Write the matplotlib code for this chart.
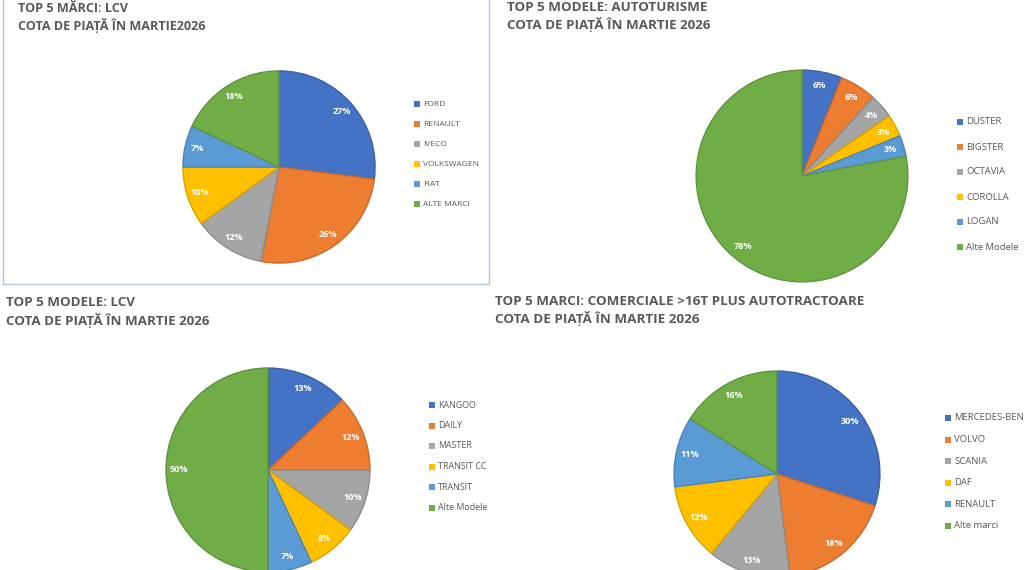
import matplotlib
matplotlib.use("Agg")
import matplotlib.pyplot as plt
from matplotlib.colors import to_rgb
from matplotlib.lines import Line2D
from matplotlib.patches import Rectangle

W, H = 1024, 570

# panel data
lcv_brands = ["FORD", "RENAULT", "IVECO", "VOLKSWAGEN", "FIAT", "ALTE MARCI"]
lcv_brands_share = [27, 26, 12, 10, 7, 18]

car_models = ["DUSTER", "BIGSTER", "OCTAVIA", "COROLLA", "LOGAN", "Alte Modele"]
car_models_share = [6.1, 5.6, 3.7, 3.4, 3.2, 78.0]

lcv_models = ["KANGOO", "DAILY", "MASTER", "TRANSIT CC", "TRANSIT", "Alte Modele"]
lcv_models_share = [13, 12, 10, 8, 7, 50]

truck_brands = ["MERCEDES-BENZ", "VOLVO", "SCANIA", "DAF", "RENAULT", "Alte marci"]
truck_brands_share = [30, 18, 13, 12, 11, 16]

titles = [
    ("TOP 5 MĂRCI: LCV", "COTA DE PIAȚĂ ÎN MARTIE2026"),
    ("TOP 5 MODELE: AUTOTURISME", "COTA DE PIAȚĂ ÎN MARTIE 2026"),
    ("TOP 5 MODELE: LCV", "COTA DE PIAȚĂ ÎN MARTIE 2026"),
    ("TOP 5 MARCI: COMERCIALE >16T PLUS AUTOTRACTOARE", "COTA DE PIAȚĂ ÎN MARTIE 2026"),
]

colors = ["#4472C4", "#ED7D31", "#A5A5A5", "#FFC000", "#5B9BD5", "#70AD47"]
text_gray = "#595959"


def darker(c, f=0.85):
    r, g, b = to_rgb(c)
    return (r * f, g * f, b * f)


def px(x, y):
    return x / W, 1 - y / H


def draw_pie(fig, cx, cy, r, values):
    ax = fig.add_axes([(cx - r) / W, 1 - (cy + r) / H, 2 * r / W, 2 * r / H])
    wedges, _, autotexts = ax.pie(
        values, colors=colors, startangle=90, counterclock=False,
        autopct="%.0f%%", pctdistance=0.87, radius=1,
        textprops=dict(color="white", fontsize=6.6, fontweight="bold",
                       family="Open Sans"),
    )
    for w, c in zip(wedges, colors):
        w.set_edgecolor(darker(c))
        w.set_linewidth(1.0)
    ax.set_xlim(-1.02, 1.02)
    ax.set_ylim(-1.02, 1.02)
    ax.set_aspect("equal")
    ax.axis("off")
    return ax


def draw_legend(fig, x, y0, step, labels, size):
    for i, (lab, c) in enumerate(zip(labels, colors)):
        y = y0 + i * step
        fig.add_artist(Rectangle(px(x - 3, y + 3), 6 / W, 6 / H,
                                 facecolor=c, edgecolor="none",
                                 transform=fig.transFigure))
        fig.text(*px(x + 6, y), lab, fontsize=size, color=text_gray,
                 va="center", ha="left", family="Open Sans")


def draw_title(fig, x, y, lines, size):
    fig.text(*px(x, y), lines[0], fontsize=size, fontweight="bold",
             color=text_gray, va="center", family="Open Sans")
    fig.text(*px(x, y + 17.5), lines[1], fontsize=size, fontweight="bold",
             color=text_gray, va="center", family="Open Sans")


fig = plt.figure(figsize=(W / 100, H / 100), dpi=100)
fig.patch.set_facecolor("white")

# panel frame of the first chart
border = "#B4C7E7"
fig.add_artist(Line2D([3 / W, 3 / W], [1, 1 - 284 / H], color=border, lw=1))
fig.add_artist(Line2D([489 / W, 489 / W], [1, 1 - 284 / H], color=border, lw=1))
fig.add_artist(Line2D([3 / W, 489 / W], [1 - 284 / H, 1 - 284 / H], color=border, lw=1))

draw_title(fig, 18, 8, titles[0], 9.1)
draw_title(fig, 507, 7.5, titles[1], 9.6)
draw_title(fig, 6, 303, titles[2], 9.6)
draw_title(fig, 495, 301.5, titles[3], 9.7)

draw_pie(fig, 279, 167, 98, lcv_brands_share)
draw_pie(fig, 802, 176, 108, car_models_share)
draw_pie(fig, 268, 470, 104, lcv_models_share)
draw_pie(fig, 777, 474, 105, truck_brands_share)

draw_legend(fig, 417, 104, 20, lcv_brands, 6.0)
draw_legend(fig, 960, 122, 25, car_models, 6.8)
draw_legend(fig, 432, 405, 20.5, lcv_models, 6.4)
draw_legend(fig, 948, 418, 21.6, truck_brands, 6.8)

fig.savefig("out.png", dpi=100)
